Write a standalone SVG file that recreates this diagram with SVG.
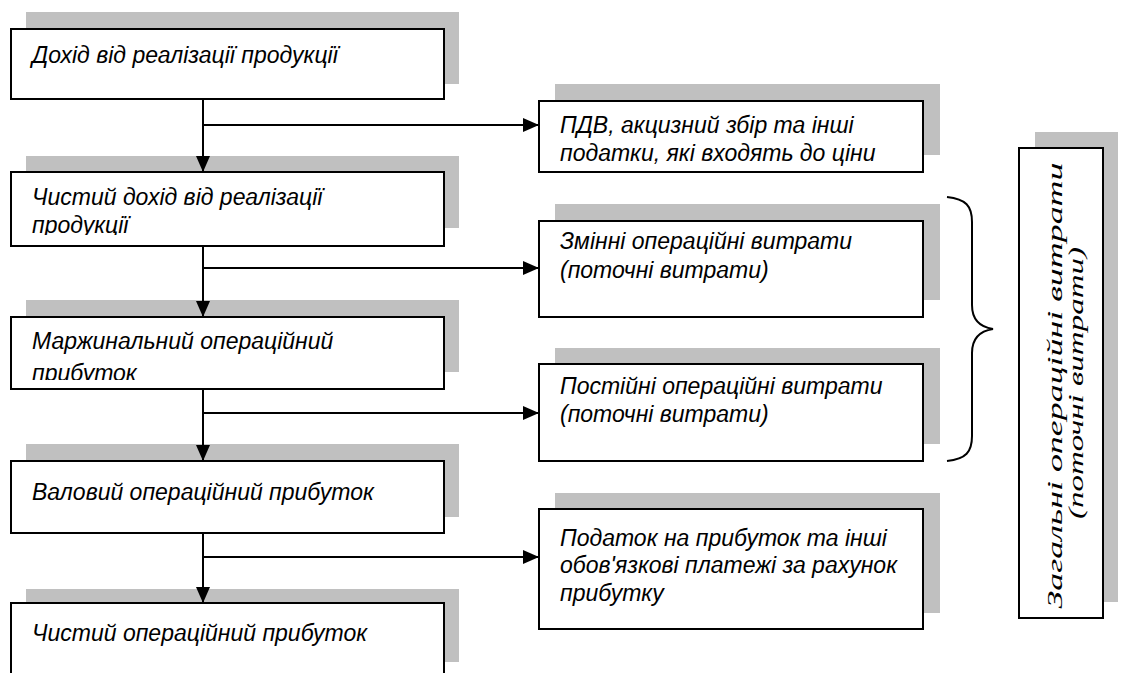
<svg xmlns="http://www.w3.org/2000/svg" width="1124" height="673" viewBox="0 0 1124 673">
  <defs>
    <style>
      .shadow { fill: #c0c0c0; stroke: none; }
      .box { fill: #ffffff; stroke: #000000; stroke-width: 2; }
      .lbl { font-family: "Liberation Sans", Arial, sans-serif; font-style: italic; font-size: 23px; fill: #000000; }
      .vlbl { font-family: "Liberation Serif", "Times New Roman", serif; font-style: italic; font-size: 20px; fill: #000000; }
      .line { fill: none; stroke: #000000; stroke-width: 2; }
    </style>
    <marker id="arrow" markerWidth="16" markerHeight="14" refX="16" refY="7" orient="auto" markerUnits="userSpaceOnUse">
      <path d="M0,0 L16,7 L0,14 Z" fill="#000000"/>
    </marker>
    <clipPath id="clip-n2"><rect x="11" y="172" width="433" height="63"/></clipPath>
    <clipPath id="clip-n3"><rect x="11" y="317" width="433" height="63"/></clipPath>
  </defs>

  <!-- left column -->
  <g id="n1">
    <rect class="shadow" x="26" y="12" width="433" height="72"/>
    <rect class="box" x="11" y="29" width="433" height="70"/>
    <text class="lbl" x="32" y="63">Дохід від реалізації продукції</text>
  </g>
  <g id="n2">
    <rect class="shadow" x="26" y="156" width="433" height="72"/>
    <rect class="box" x="11" y="172" width="433" height="74"/>
    <g clip-path="url(#clip-n2)">
      <text class="lbl" x="32" y="205">Чистий дохід від реалізації</text>
      <text class="lbl" x="32" y="233">продукції</text>
    </g>
  </g>
  <g id="n3">
    <rect class="shadow" x="26" y="300" width="433" height="72"/>
    <rect class="box" x="11" y="317" width="433" height="72"/>
    <g clip-path="url(#clip-n3)">
      <text class="lbl" x="32" y="349">Маржинальний операційний</text>
      <text class="lbl" x="32" y="381">прибуток</text>
    </g>
  </g>
  <g id="n4">
    <rect class="shadow" x="26" y="444" width="433" height="73"/>
    <rect class="box" x="11" y="461" width="433" height="72"/>
    <text class="lbl" x="32" y="500">Валовий операційний прибуток</text>
  </g>
  <g id="n5">
    <rect class="shadow" x="26" y="589" width="433" height="73"/>
    <rect class="box" x="11" y="603" width="433" height="90"/>
    <text class="lbl" x="32" y="641">Чистий операційний прибуток</text>
  </g>

  <!-- right column -->
  <g id="n6">
    <rect class="shadow" x="555" y="84" width="385" height="71"/>
    <rect class="box" x="539" y="101" width="384" height="71"/>
    <text class="lbl" x="560" y="133">ПДВ, акцизний збір та інші</text>
    <text class="lbl" x="560" y="161">податки, які входять до ціни</text>
  </g>
  <g id="n7">
    <rect class="shadow" x="555" y="204" width="385" height="96"/>
    <rect class="box" x="539" y="221" width="384" height="96"/>
    <text class="lbl" x="560" y="249">Змінні операційні витрати</text>
    <text class="lbl" x="560" y="278">(поточні витрати)</text>
  </g>
  <g id="n8">
    <rect class="shadow" x="555" y="348" width="385" height="96"/>
    <rect class="box" x="539" y="364" width="384" height="97"/>
    <text class="lbl" x="560" y="394">Постійні операційні витрати</text>
    <text class="lbl" x="560" y="422">(поточні витрати)</text>
  </g>
  <g id="n9">
    <rect class="shadow" x="555" y="493" width="385" height="120"/>
    <rect class="box" x="539" y="509" width="384" height="120"/>
    <text class="lbl" x="560" y="546">Податок на прибуток та інші</text>
    <text class="lbl" x="560" y="573">обов'язкові платежі за рахунок</text>
    <text class="lbl" x="560" y="601">прибутку</text>
  </g>

  <!-- total costs, vertical -->
  <g id="n10">
    <rect class="shadow" x="1035" y="132" width="83" height="470"/>
    <rect class="box" x="1019" y="148" width="84" height="470"/>
    <text class="vlbl" transform="translate(1061,383) rotate(-90)" text-anchor="middle">
      <tspan x="0" y="1" textLength="446" lengthAdjust="spacingAndGlyphs">Загальні операційні витрати</tspan>
      <tspan x="0" y="22" textLength="272" lengthAdjust="spacingAndGlyphs">(поточні витрати)</tspan>
    </text>
  </g>

  <!-- brace grouping the two cost boxes -->
  <g id="brace">
    <path class="line" d="M947,197 C966,199 972,206 972,222 L972,305 C972,320 980,327 993,329 C980,331 972,338 972,353 L972,436 C972,452 966,459 947,461"/>
  </g>

  <!-- connectors -->
  <g id="connectors">
    <line class="line" x1="203" y1="99" x2="203" y2="172" marker-end="url(#arrow)"/>
    <line class="line" x1="203" y1="125" x2="539" y2="125" marker-end="url(#arrow)"/>
    <line class="line" x1="203" y1="246" x2="203" y2="317" marker-end="url(#arrow)"/>
    <line class="line" x1="203" y1="268" x2="539" y2="268" marker-end="url(#arrow)"/>
    <line class="line" x1="203" y1="389" x2="203" y2="461" marker-end="url(#arrow)"/>
    <line class="line" x1="203" y1="413" x2="539" y2="413" marker-end="url(#arrow)"/>
    <line class="line" x1="203" y1="533" x2="203" y2="603" marker-end="url(#arrow)"/>
    <line class="line" x1="203" y1="557" x2="539" y2="557" marker-end="url(#arrow)"/>
  </g>
</svg>
